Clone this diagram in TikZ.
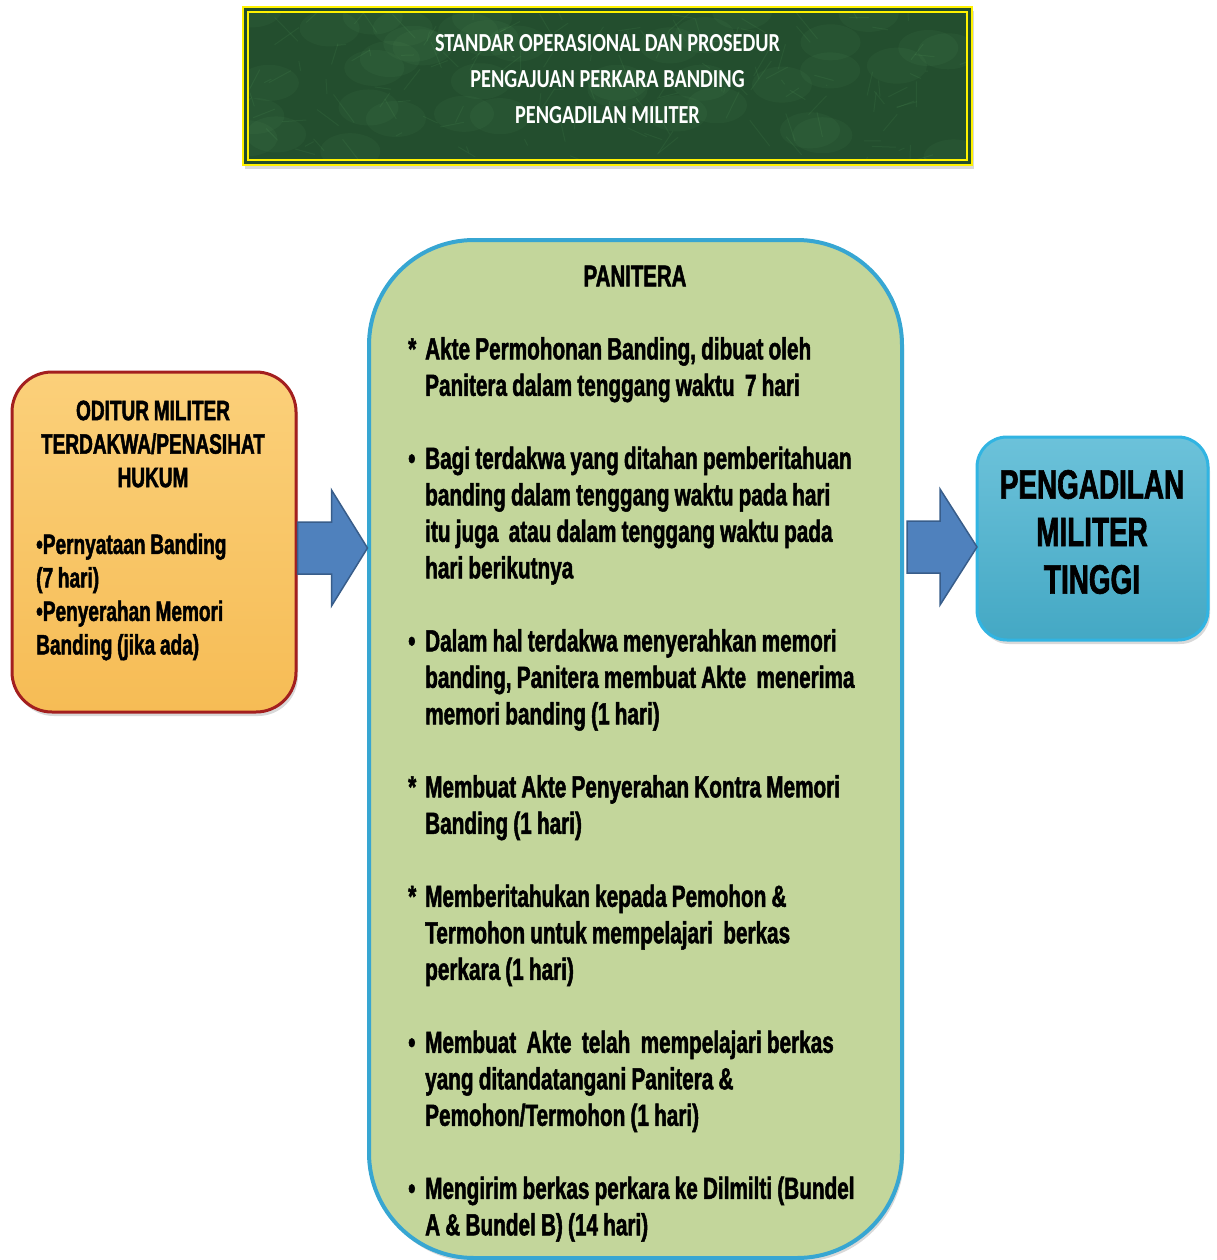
\documentclass[tikz,border=0pt]{standalone}
\usepackage{fontspec}
\setmainfont{Liberation Sans}[UprightFont=* Bold, BoldFont=* Bold, FakeStretch=0.68, FakeBold=1.6, WordSpace=0.9]
\newfontfamily\titlefont{Carlito}[FakeStretch=0.78]
\usetikzlibrary{shadows,calc}

\definecolor{titlegreen}{HTML}{234E2E}
\definecolor{odfilltop}{HTML}{FBD07A}
\definecolor{odfillbot}{HTML}{F6BC55}
\definecolor{odline}{HTML}{A31F1F}
\definecolor{panfill}{HTML}{C3D69B}
\definecolor{panline}{HTML}{37A6D2}
\definecolor{arrfill}{HTML}{4F81BD}
\definecolor{arrline}{HTML}{385D8A}
\definecolor{pmtop}{HTML}{6CC2DA}
\definecolor{pmbot}{HTML}{44A8C4}
\definecolor{pmline}{HTML}{31B4E2}

\newcommand\itm[1]{\makebox[17pt][l]{#1}}
\newcommand\cnt{\hspace*{17pt}}

\begin{document}
\begin{tikzpicture}[x=1pt,y=-1pt,
  box/.style={draw, line width=3pt, rounded corners=#1, inner sep=0pt,
    drop shadow={opacity=0.3, shadow xshift=2pt, shadow yshift=-4pt}},
  bigarrow/.style={fill=arrfill, draw=arrline, line width=1.5pt, line join=miter}]
  \useasboundingbox (0,0) rectangle (1217,1260);

  %title
  \node[draw=yellow, line width=2.5pt, fill=titlegreen, minimum width=729pt, minimum height=158pt,
    inner sep=0pt, drop shadow={opacity=0.3, shadow xshift=2pt, shadow yshift=-4pt}] (title) at (607.5,86) {};
  \begin{scope}
    \clip ([shift={(6pt,-6pt)}]title.north west) rectangle ([shift={(-6pt,6pt)}]title.south east);
    \pgfmathsetseed{11}
    \foreach \i in {1,...,40}
      \fill[green!35!white, opacity=0.035] (243+729*rnd,7+158*rnd) ellipse (30pt and 18pt);
    \foreach \i in {1,...,160}
      \draw[green!40!white, opacity=0.06, line width=1pt] (243+729*rnd,7+158*rnd) -- ++(-25+50*rnd,-30+60*rnd);
  \end{scope}
  \draw[yellow, line width=2pt] ([shift={(6pt,-6pt)}]title.north west) rectangle ([shift={(-6pt,6pt)}]title.south east);
  \node[text=white, font=\titlefont\bfseries\fontsize{26}{36}\selectfont, align=center] (titletext) at (607.5,79)
    {STANDAR OPERASIONAL DAN PROSEDUR\\PENGAJUAN PERKARA BANDING\\PENGADILAN MILITER};

  %oditur
  \node[box=40pt, draw=odline, top color=odfilltop, bottom color=odfillbot,
    minimum width=284pt, minimum height=340pt] (oditur) at (154,542) {};
  \node[font=\fontsize{28}{33.5}\selectfont, align=center] (odhead) at (153,444)
    {ODITUR MILITER\\TERDAKWA/PENASIHAT\\HUKUM};
  \node[font=\fontsize{28}{33.5}\selectfont, align=left, anchor=west, inner sep=0pt] (odlist) at (36,597)
    {\textbullet Pernyataan Banding\\(7 hari)\\\textbullet Penyerahan Memori\\Banding (jika ada)};

  %panitera
  \node[box=105pt, draw=panline, line width=4pt, fill=panfill,
    minimum width=533pt, minimum height=1018pt] (panitera) at (635.5,749) {};
  \node[font=\fontsize{30}{36}\selectfont] (panhead) at (635,276) {PANITERA};
  \node[font=\fontsize{30.5}{36.5}\selectfont, align=left, anchor=north west, inner sep=0pt] (panlist) at (408,337) {%
    \itm{*}Akte Permohonan Banding, dibuat oleh\\ \cnt Panitera dalam tenggang waktu~ 7 hari\\[36.5pt]
    \itm{\textbullet}Bagi terdakwa yang ditahan pemberitahuan\\ \cnt banding dalam tenggang waktu pada hari\\ \cnt itu juga~ atau dalam tenggang waktu pada\\ \cnt hari berikutnya\\[36.5pt]
    \itm{\textbullet}Dalam hal terdakwa menyerahkan memori\\ \cnt banding, Panitera membuat Akte~ menerima\\ \cnt memori banding (1 hari)\\[36.5pt]
    \itm{*}Membuat Akte Penyerahan Kontra Memori\\ \cnt Banding (1 hari)\\[36.5pt]
    \itm{*}Memberitahukan kepada Pemohon \&\\ \cnt Termohon untuk mempelajari~ berkas\\ \cnt perkara (1 hari)\\[36.5pt]
    \itm{\textbullet}Membuat~ Akte~ telah~ mempelajari berkas\\ \cnt yang ditandatangani Panitera \&\\ \cnt Pemohon/Termohon (1 hari)\\[36.5pt]
    \itm{\textbullet}Mengirim berkas perkara ke Dilmilti (Bundel\\ \cnt A \& Bundel B) (14 hari)};

  %pengadilan militer tinggi
  \node[box=30pt, draw=pmline, top color=pmtop, bottom color=pmbot,
    minimum width=231pt, minimum height=203pt] (pmt) at (1092.5,538.5) {};
  \node[font=\fontsize{41}{47.5}\selectfont, align=center] (pmttext) at (1092,532)
    {PENGADILAN\\MILITER\\TINGGI};

  %arrows
  \draw[bigarrow] ($(oditur.east)+(0,-20)$) -- ++(34,0) -- ++(0,-32) -- ++(36,58)
    -- ++(-36,58) -- ++(0,-32) -- ++(-34,0) -- cycle;
  \draw[bigarrow] ($(panitera.east |- pmt.west)+(3,-17.5)$) -- ++(33,0) -- ++(0,-32) -- ++(37,58)
    -- ++(-37,58) -- ++(0,-32) -- ++(-33,0) -- cycle;
\end{tikzpicture}
\end{document}
